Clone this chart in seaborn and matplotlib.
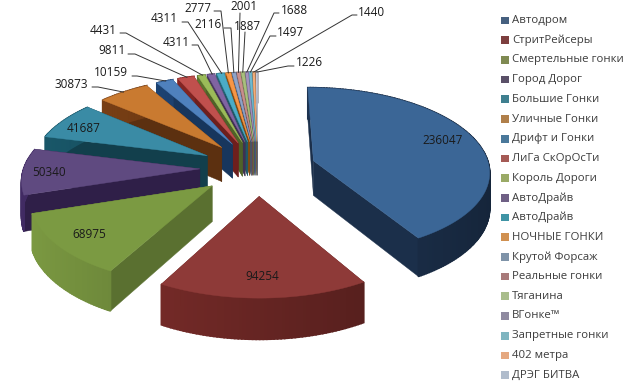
# exploded 3D pie, perspective projection done by hand since matplotlib has no such pie
import numpy as np
import pandas as pd
import matplotlib
matplotlib.use("Agg")
import matplotlib.pyplot as plt
import seaborn as sns

names = ["Автодром", "СтритРейсеры", "Смертельные гонки", "Город Дорог", "Большие Гонки",
         "Уличные Гонки", "Дрифт и Гонки", "ЛиГа СкОрОсТи", "Король Дороги", "АвтоДрайв",
         "АвтоДрайв", "НОЧНЫЕ ГОНКИ", "Крутой Форсаж", "Реальные гонки", "Тяганина",
         "ВГонке™", "Запретные гонки", "402 метра", "ДРЭГ БИТВА"]
values = [236047, 94254, 68975, 50340, 41687, 30873, 10159, 9811, 4431, 4311,
          4311, 2777, 2116, 2001, 1887, 1688, 1497, 1440, 1226]

top_colors = ["#3b6696", "#8e3a38", "#7b9a42", "#5f4a80", "#3a8ba5", "#c97a30",
              "#4f81bd", "#c0504d", "#9bbb59", "#8064a2", "#4bacc6", "#f79646",
              "#8ea3c8", "#c88f8d", "#a9bf7d", "#a493bd", "#6fb9cf", "#f3ac78", "#c5c9d8"]
side_colors = ["#1b2f4a", "#5e2220", "#5a7030", "#2f1f48", "#123f4c", "#5c3010",
               "#17365d", "#6e1f1d", "#4f6228", "#3f3151", "#205867", "#7f4a12",
               "#46566e", "#6e4a48", "#5a6a40", "#52486a", "#3a6a78", "#80583a", "#606470"]
legend_colors = ["#46607f", "#7d3f3f", "#7f8a52", "#5a5068", "#3f7f8f", "#b07f4a",
                 "#4a789a", "#a55a55", "#9aaa66", "#6f6085", "#3f94a5", "#d09050",
                 "#7f93a8", "#a87a7a", "#a9bd8c", "#8f8aa0", "#7fb5c0", "#e5a880", "#b0bccc"]

# label centres in pixels
label_pos = [(443, 140), (262, 277), (89, 235), (49, 172), (84, 128), (71, 84), (111, 73),
             (112, 51), (103, 30), (164, 19), (176, 42), (198, 8), (208, 25), (244, 7),
             (247, 26), (294, 10), (290, 32), (371, 12), (309, 62)]
# leader bend next to the label, first five slices have none
elbows = [None, None, None, None, None, [(92, 87), (98, 87)], [(132, 76), (137, 76)],
          [(128, 54), (135, 54)], [(120, 33), (126, 33)], [(192, 45), (198, 45)],
          [(182, 22), (188, 22)], [(214, 11), (221, 11)], [(224, 28), (231, 28)],
          [(240, 13)], [(245, 32)], [(279, 13), (274, 13)], [(276, 36), (270, 36)],
          [(357, 15), (352, 15)], [(294, 66), (288, 66)]]

CX, CY = 258, 168
RX, RY = 176, 83
PERSP = 0.114
EXPLODE = 0.33
DEPTH = 35


def project(u, v, drop=0.0):
    w = 1 + PERSP * v
    return CX + RX * u / w, CY - RY * v / w + drop / w


def wedge_points(start, end, drop=0.0):
    mid = (start + end) / 2
    tx, ty = EXPLODE * np.sin(mid), EXPLODE * np.cos(mid)
    th = np.linspace(start, end, max(3, int(np.degrees(end - start)) + 2))
    xo, yo = project(tx + np.sin(th), ty + np.cos(th), drop)
    xt, yt = project(tx, ty, drop)
    return xt, yt, xo, yo, th


sns.set_theme(style="white")
plt.rcParams["font.family"] = ["Open Sans", "DejaVu Sans"]

fig = plt.figure(figsize=(6.31, 3.90), dpi=100, facecolor="white")
ax = fig.add_axes([0, 0, 1, 1])
ax.set_xlim(0, 631)
ax.set_ylim(390, 0)
ax.axis("off")

angles = np.cumsum([0] + values) / sum(values) * 2 * np.pi
starts, ends = angles[:-1], angles[1:]

# back slices first so the front ones sit on top
order = np.argsort(-np.cos((starts + ends) / 2))
z = 2
for i in order:
    xt, yt, xo, yo, th = wedge_points(starts[i], ends[i])
    xb, yb, xp, yq, _ = wedge_points(starts[i], ends[i], DEPTH)
    side = np.array(matplotlib.colors.to_rgb(side_colors[i]))
    # two radial walls
    for k in (0, -1):
        ax.fill([xt, xo[k], xp[k], xb], [yt, yo[k], yq[k], yb], color=side, lw=0.3, zorder=z)
    # outer wall, a bit lighter on the left. thick edges hide the seams between segments
    for k in range(len(th) - 1):
        shade = np.clip(side * (1.08 - 0.3 * np.sin((th[k] + th[k + 1]) / 2)), 0, 1)
        ax.fill([xo[k], xo[k + 1], xp[k + 1], xp[k]], [yo[k], yo[k + 1], yq[k + 1], yq[k]],
                color=shade, lw=1.2, zorder=z)
    ax.fill(np.r_[xt, xo], np.r_[yt, yo], color=top_colors[i], lw=0.3, zorder=z + 0.5)
    z += 1

for i, val in enumerate(values):
    lx, ly = label_pos[i]
    ax.text(lx, ly, str(val), ha="center", va="center", fontsize=8.5, color="#1a1a1a", zorder=100)
    if elbows[i] is not None:
        xt, yt, xo, yo, th = wedge_points(starts[i], ends[i])
        m = len(xo) // 2
        pts = elbows[i] + [(xo[m], yo[m])]
        ax.plot([p[0] for p in pts], [p[1] for p in pts], color="#333333", lw=0.7, zorder=99)

# legend in its own axes, slot number on y
leg_ax = fig.add_axes([0, 0, 1, 1], facecolor="none")
legend_df = pd.DataFrame({"x": [505] * len(names), "slot": range(len(names))})
sns.scatterplot(data=legend_df, x="x", y="slot", hue="slot", palette=legend_colors, marker="s",
                s=30, linewidth=0, legend=False, ax=leg_ax)
leg_ax.set_xlim(0, 631)
leg_ax.set_ylim((390 - 20.5) / 19.7, -20.5 / 19.7)
leg_ax.axis("off")
for i, name in enumerate(names):
    leg_ax.text(512, i, name, ha="left", va="center", fontsize=8.2, color="#3c3c3c")

fig.savefig("out.png", dpi=100, facecolor="white")
